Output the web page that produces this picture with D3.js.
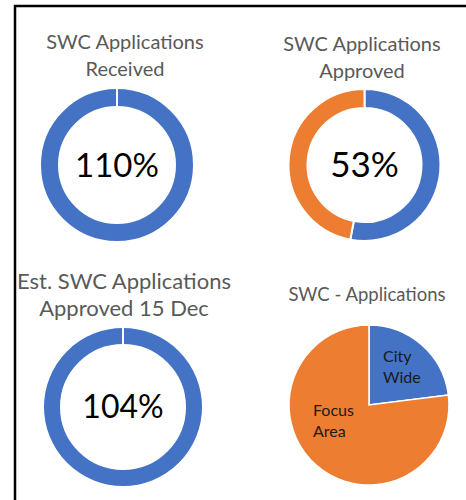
<!DOCTYPE html>
<html>
<head>
<meta charset="utf-8">
<script src="https://cdn.jsdelivr.net/npm/d3@7"></script>
<style>
  body { margin: 0; background: #fff; }
  text { font-family: Lato, "Open Sans", sans-serif; }
</style>
</head>
<body>
<svg id="chart"></svg>
<script>
// values
var receivedTitle = ["SWC Applications", "Received"];
var approvedTitle = ["SWC Applications", "Approved"];
var estTitle = ["Est. SWC Applications", "Approved 15 Dec"];
var pieTitle = ["SWC - Applications"];

var receivedValues = [110, 0];
var approvedValues = [53, 47];
var estValues = [104, 0];

var pieCategories = [["City", "Wide"], ["Focus", "Area"]];
var pieValues = [23, 77];

var colors = ["#4472C4", "#ED7D31"];

var width = 466, height = 500;

var svg = d3.select("#chart")
    .attr("width", width)
    .attr("height", height);

// frame (only left and top edges fall inside the picture)
svg.append("path")
    .attr("d", "M15,500 V6 H466")
    .attr("fill", "none")
    .attr("stroke", "#000")
    .attr("stroke-width", 2.5);

var pie = d3.pie().sort(null).value(function(d){ return d; });

function title(lines, cx, y0, size, gap){
    svg.append("text")
        .attr("x", cx)
        .attr("y", y0)
        .attr("text-anchor", "middle")
        .style("font-size", size + "px")
        .style("fill", "#595959")
        .selectAll("tspan")
        .data(lines)
        .enter()
        .append("tspan")
        .attr("x", cx)
        .attr("dy", function(d, i){ return i == 0 ? 0 : gap; })
        .text(function(d){ return d; });
}

function donut(values, cx, cy, r, inner, label, size){
    var arc = d3.arc().innerRadius(inner).outerRadius(r);
    var g = svg.append("g")
        .attr("transform", "translate(" + cx + "," + cy + ")");

    g.selectAll("path")
        .data(pie(values))
        .enter()
        .append("path")
        .attr("d", arc)
        .attr("fill", function(d, i){ return colors[i]; })
        .attr("stroke", "#fff")
        .attr("stroke-width", 2);

    g.append("text")
        .attr("text-anchor", "middle")
        .attr("dy", "0.35em")
        .style("font-size", size + "px")
        .style("fill", "#000")
        .text(label);
}

title(receivedTitle, 125, 49, 20, 27);
donut(receivedValues, 117, 165, 77, 58, receivedValues[0] + "%", 33);

title(approvedTitle, 362, 51, 20, 27);
donut(approvedValues, 364.5, 165, 76, 57, approvedValues[0] + "%", 35);

title(estTitle, 124, 289, 22, 27);
donut(estValues, 123, 407, 80, 62, estValues[0] + "%", 32);

title(pieTitle, 367, 301, 18.5, 0);

// pie
var pieArc = d3.arc().innerRadius(0).outerRadius(80);
var pg = svg.append("g")
    .attr("transform", "translate(369,405)");

pg.selectAll("path")
    .data(pie(pieValues))
    .enter()
    .append("path")
    .attr("d", pieArc)
    .attr("fill", function(d, i){ return colors[i]; })
    .attr("stroke", "#fff")
    .attr("stroke-width", 1.5);

var labelPos = [[383, 362], [313, 416]];
pg.selectAll(".lbl")
    .data(pieCategories)
    .enter()
    .append("text")
    .attr("class", "lbl")
    .attr("transform", function(d, i){
        return "translate(" + (labelPos[i][0] - 369) + "," + (labelPos[i][1] - 405) + ")";
    })
    .style("font-size", "16px")
    .style("fill", "#1a1a1a")
    .selectAll("tspan")
    .data(function(d){ return d; })
    .enter()
    .append("tspan")
    .attr("x", 0)
    .attr("dy", function(d, i){ return i == 0 ? 0 : 21; })
    .text(function(d){ return d; });
</script>
</body>
</html>
